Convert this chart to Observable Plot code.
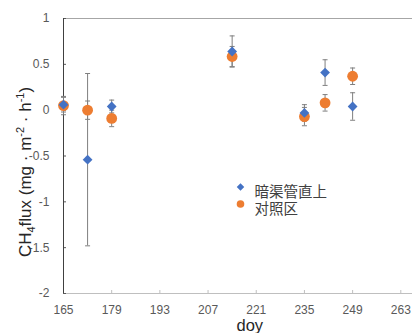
<!DOCTYPE html>
<html><head><meta charset="utf-8">
<script src="https://cdn.jsdelivr.net/npm/d3@7"></script>
<script src="https://cdn.jsdelivr.net/npm/@observablehq/plot@0.6"></script>
<style>body{margin:0;background:#fff}#c{width:412px;height:333px;overflow:hidden}</style>
</head><body><div id="c"></div>
<script>
const days = [165, 172, 179, 214, 235, 241, 249];
const seriesNames = ["暗渠管直上", "对照区"];
const blueValues = [0.06, -0.54, 0.04, 0.64, -0.03, 0.41, 0.04];
const blueErrors = [0.08, 0.94, 0.07, 0.17, 0.09, 0.14, 0.15];
const orangeValues = [0.05, 0.0, -0.09, 0.585, -0.07, 0.08, 0.37];
const orangeErrors = [0.10, 0.10, 0.09, 0.11, 0.10, 0.09, 0.09];
const xTicks = [165, 179, 193, 207, 221, 235, 249, 263];
const yTicks = [-2, -1.5, -1, -0.5, 0, 0.5, 1];

const blue = "#4472C4", orange = "#ED7D31", errColor = "#7f7f7f";
const blueRows = days.map((d, i) => ({day: d, v: blueValues[i], e: blueErrors[i]}));
const orangeRows = days.map((d, i) => ({day: d, v: orangeValues[i], e: orangeErrors[i]}));
const allRows = orangeRows.concat(blueRows);
const cap = {draw(ctx) { ctx.moveTo(-2.5, 0); ctx.lineTo(2.5, 0); }};
const font = "'Liberation Sans', Arial, sans-serif";
const cjk = "'Liberation Sans', 'Noto Sans CJK JP', 'Noto Sans CJK SC', sans-serif";

const chart = Plot.plot({
  width: 412, height: 333,
  marginLeft: 63, marginRight: 0, marginTop: 18, marginBottom: 40,
  x: {domain: [165, 266.4]},
  y: {domain: [-2, 1]},
  style: {fontFamily: font, fontSize: "12px", background: "#fff", overflow: "visible"},
  marks: [
    Plot.ruleY([1], {stroke: "#a6a6a6", strokeWidth: 1}),
    Plot.ruleY([-2], {stroke: "#bfbfbf", strokeWidth: 1}),
    Plot.axisX({ticks: xTicks, tickSize: -3, tickPadding: 15, tickFormat: d => String(d), stroke: "#bfbfbf", fill: "#595959", label: null}),
    Plot.axisY({ticks: yTicks, tickSize: -3, tickPadding: 17, tickFormat: d => String(d), stroke: "#595959", fill: "#595959", label: null}),
    Plot.ruleX([165], {stroke: "#404040", strokeWidth: 1}),
    Plot.ruleX(allRows, {x: "day", y1: d => d.v - d.e, y2: d => d.v + d.e, stroke: errColor, strokeWidth: 1}),
    Plot.dot(allRows, {x: "day", y: d => d.v + d.e, symbol: cap, stroke: errColor, strokeWidth: 1}),
    Plot.dot(allRows, {x: "day", y: d => d.v - d.e, symbol: cap, stroke: errColor, strokeWidth: 1}),
    Plot.dot(orangeRows, {x: "day", y: "v", r: 5.4, fill: orange, stroke: null}),
    Plot.dot(blueRows, {x: "day", y: "v", r: 4.4, symbol: "diamond2", fill: blue, stroke: null}),
    // legend
    Plot.dot([seriesNames[0]], {frameAnchor: "top-left", dx: 177, dy: 168.5, r: 3.4, symbol: "diamond2", fill: blue}),
    Plot.dot([seriesNames[1]], {frameAnchor: "top-left", dx: 177, dy: 185.5, r: 3.8, fill: orange}),
    Plot.text([seriesNames[0]], {frameAnchor: "top-left", dx: 191, dy: 168.5, text: d => d, textAnchor: "start", fontSize: 14.5, fill: "#404040", fontFamily: cjk}),
    Plot.text([seriesNames[1]], {frameAnchor: "top-left", dx: 191, dy: 185.5, text: d => d, textAnchor: "start", fontSize: 14.5, fill: "#404040", fontFamily: cjk}),
    Plot.text(["doy"], {frameAnchor: "bottom-left", dx: 173, dy: 37, lineAnchor: "bottom", text: d => d, fontSize: 16.5, fill: "#262626"})
  ]
});

const svg = d3.select(chart);
const t = svg.append("text")
  .attr("transform", "translate(31,172) rotate(-90)")
  .attr("text-anchor", "middle")
  .attr("font-family", font)
  .attr("font-size", 17)
  .attr("fill", "#262626");
t.append("tspan").text("CH");
t.append("tspan").attr("font-size", 11).attr("dy", 4).text("4");
t.append("tspan").attr("dy", -4).text("flux (mg · m");
t.append("tspan").attr("font-size", 11).attr("dy", -7).text("-2");
t.append("tspan").attr("dy", 7).text(" · h");
t.append("tspan").attr("font-size", 11).attr("dy", -7).text("-1");
t.append("tspan").attr("dy", 7).text(")");

document.getElementById("c").appendChild(chart);
</script>
</body></html>
